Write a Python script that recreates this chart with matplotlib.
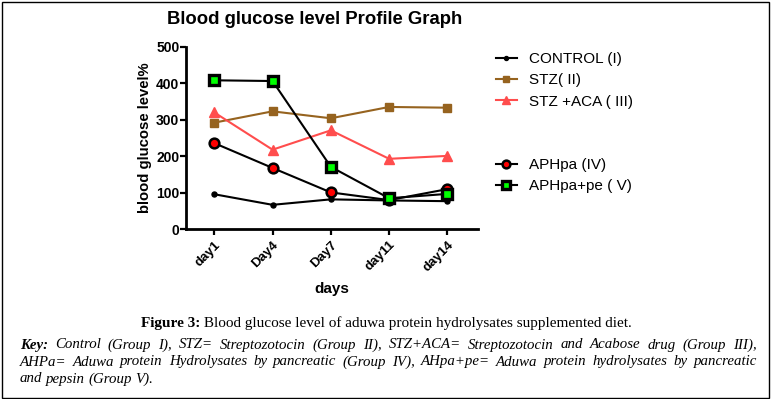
import matplotlib
matplotlib.use("Agg")
import matplotlib.pyplot as plt
from matplotlib.patches import Rectangle

# data
days = ["day1", "Day4", "Day7", "day11", "day14"]
control = [96, 67, 82, 79, 77]
stz = [292, 323, 304, 335, 333]
stz_aca = [320, 218, 271, 193, 201]
aphpa = [236, 168, 101, 80, 110]
aphpa_pe = [408, 406, 171, 85, 97]

W, H = 773, 399
fig = plt.figure(figsize=(W / 100, H / 100), dpi=100)
plt.rcParams['font.family'] = ['Liberation Sans', 'DejaVu Sans']

ax = fig.add_axes([186.3 / W, 1 - 229.3 / H, (477.7 - 186.3) / W, (229.3 - 46.7) / H])
x = list(range(len(days)))

h1, = ax.plot(x, control, color='black', lw=1.5, marker='o', ms=3.6, label='CONTROL (I)')
h2, = ax.plot(x, stz, color='#96631f', lw=1.5, marker='s', ms=5.8, label='STZ( II)')
h3, = ax.plot(x, stz_aca, color='#ff4d4d', lw=1.5, marker='^', ms=7, label='STZ +ACA ( III)')
h4, = ax.plot(x, aphpa, color='black', lw=1.5, marker='o', ms=7, mfc='red', mec='black',
              mew=1.8, label='APHpa (IV)')
h5, = ax.plot(x, aphpa_pe, color='black', lw=1.5, marker='s', ms=7.5, mfc='#00ff00', mec='black',
              mew=2.4, label='APHpa+pe ( V)')

ax.set_xlim(-0.48, 4.52)
ax.set_ylim(0, 500)
ax.set_yticks([0, 100, 200, 300, 400, 500])
ax.set_xticks(x)
ax.set_xticklabels(days, rotation=45, ha='right', rotation_mode='anchor', fontsize=9.5, fontweight='bold')
ax.tick_params(axis='y', labelsize=10, length=4, width=1.6, direction='out', pad=1)
for lab in ax.get_yticklabels():
    lab.set_fontweight('bold')
ax.tick_params(axis='x', length=4, width=1.6, direction='out', pad=3)
for s in ['top', 'right']:
    ax.spines[s].set_visible(False)
for s in ['left', 'bottom']:
    ax.spines[s].set_linewidth(2)
ax.set_ylabel('blood glucose level%', fontsize=10.7, fontweight='bold', labelpad=3)
ax.set_xlabel('days', fontsize=11, fontweight='bold', labelpad=6)

fig.text(314.5 / W, 1 - 20 / H, 'Blood glucose level Profile Graph', fontsize=13.3,
         fontweight='bold', ha='center', va='center')

leg_kw = dict(frameon=False, fontsize=11, handlelength=1.37, handletextpad=0.8,
              labelspacing=0.48, borderpad=0, borderaxespad=0, loc='upper left', markerscale=0.8)
leg1 = fig.legend(handles=[h1, h2, h3], bbox_to_anchor=(496 / W, 1 - 52 / H), **leg_kw)
leg2 = fig.legend(handles=[h4, h5], bbox_to_anchor=(496 / W, 1 - 158 / H), **leg_kw)

# frame around the whole figure
fig.patches.append(Rectangle((1.5 / W, 1.5 / H), (769 - 1.5) / W, (397 - 1.5) / H,
                             transform=fig.transFigure, fill=False, lw=1, ec='black'))

# caption
serif = ['Liberation Serif', 'DejaVu Serif']
fig.canvas.draw()
r = fig.canvas.get_renderer()


def width(t):
    return t.get_window_extent(renderer=r).width


cap_y = 1 - 323 / H
a = fig.text(0, cap_y, 'Figure 3:', family=serif, fontsize=11, fontweight='bold', va='center')
b = fig.text(0, cap_y, ' Blood glucose level of aduwa protein hydrolysates supplemented diet.',
             family=serif, fontsize=11, va='center')
wa, wb = width(a), width(b)
x0 = (W / 2 - (wa + wb) / 2)
a.set_x(x0 / W)
b.set_x((x0 + wa) / W)

key_lines = [
    "Key: Control (Group I), STZ= Streptozotocin (Group II), STZ+ACA= Streptozotocin and Acabose drug (Group III),",
    "AHPa= Aduwa protein Hydrolysates by pancreatic (Group IV), AHpa+pe= Aduwa protein hydrolysates by pancreatic",
    "and pepsin (Group V).",
]
left, right = 20, 757
line_y = [345, 362, 379]
for i, line in enumerate(key_lines):
    words = line.split(' ')
    texts = []
    for j, w in enumerate(words):
        bold = (i == 0 and j == 0)
        t = fig.text(0, 1 - line_y[i] / H, w, family=serif, fontsize=10.7, style='italic',
                     fontweight='bold' if bold else 'normal', va='center')
        texts.append(t)
    ws = [width(t) for t in texts]
    if i < len(key_lines) - 1:
        gap = (right - left - sum(ws)) / (len(ws) - 1)
    else:
        gap = 3.5
    pos = left
    for t, w in zip(texts, ws):
        t.set_x(pos / W)
        pos += w + gap

fig.savefig('out.png', dpi=100)
